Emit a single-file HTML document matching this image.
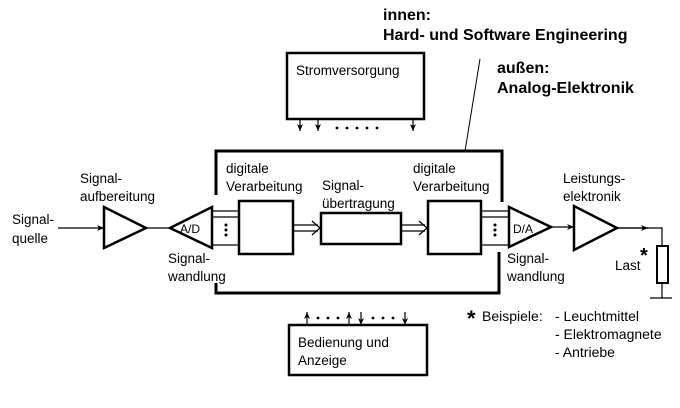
<!DOCTYPE html>
<html><head><meta charset="utf-8"><style>
body{margin:0;background:#fff}
svg text{font-family:"Liberation Sans",sans-serif;fill:#000}
</style></head><body>
<svg width="680" height="403" viewBox="0 0 680 403" xmlns="http://www.w3.org/2000/svg">
<defs><marker id="a" markerWidth="8" markerHeight="8" refX="7" refY="4" orient="auto" markerUnits="userSpaceOnUse"><path d="M0,1 L7,4 L0,7 L2,4Z" fill="#000"/></marker></defs>
<g font-size="13.5">
<text x="383" y="20" font-weight="bold" font-size="16">innen:</text>
<text x="383" y="40" font-weight="bold" font-size="16">Hard- und Software Engineering</text>
<text x="497" y="73" font-weight="bold" font-size="16">außen:</text>
<text x="497" y="93" font-weight="bold" font-size="16">Analog-Elektronik</text>
<text x="12" y="224">Signal-</text><text x="12" y="243">quelle</text>
<text x="80" y="183">Signal-</text><text x="80" y="201">aufbereitung</text>
<text x="226" y="173">digitale</text><text x="226" y="191">Verarbeitung</text>
<text x="322" y="190">Signal-</text><text x="322" y="208">übertragung</text>
<text x="413" y="173">digitale</text><text x="413" y="191">Verarbeitung</text>
<text x="563" y="183">Leistungs-</text><text x="563" y="201">elektronik</text>
<text x="168" y="263">Signal-</text><text x="168" y="281">wandlung</text>
<text x="507" y="263">Signal-</text><text x="507" y="281">wandlung</text>
<text x="615" y="270">Last</text><text x="640" y="262" font-size="20" font-weight="bold">*</text>
<text x="467" y="326" font-size="22" font-weight="bold">*</text>
<text x="482" y="321" font-size="14">Beispiele:</text>
<text x="555" y="321" font-size="14">- Leuchtmittel</text>
<text x="555" y="339" font-size="14">- Elektromagnete</text>
<text x="555" y="357" font-size="14">- Antriebe</text>
<text x="296" y="75">Stromversorgung</text>
<text x="298" y="347">Bedienung und</text><text x="298" y="365">Anzeige</text>
<text x="180" y="233" font-size="12">A/D</text>
<text x="513" y="233" font-size="12">D/A</text>
</g>
<g fill="none" stroke="#000">
<path d="M216,195 V151 H502 V202" stroke-width="3"/>
<path d="M216,283 V293 H499 V252" stroke-width="3"/>
<line x1="480" y1="59" x2="465" y2="151" stroke-width="1"/>
<rect x="287" y="53" width="137" height="66" stroke-width="2.5"/>
<rect x="289" y="325" width="138" height="50" stroke-width="2.5"/>
<polygon points="170,228 212,207 212,248" stroke-width="2.5"/>
<polygon points="509,207 509,247 551,227" stroke-width="2.5"/>
<polygon points="104,207 104,248 146,228" stroke-width="2.5"/>
<polygon points="574,206 574,250 617,228" stroke-width="2.5"/>
<rect x="239" y="201" width="54" height="53" stroke-width="2.5"/>
<rect x="321" y="213" width="80" height="31" stroke-width="2.5"/>
<rect x="428" y="201" width="53" height="53" stroke-width="2.5"/>
<path d="M212,211H239M212,217H239M212,245H239M481,211H509M481,217H509M481,245H509" stroke-width="1.2"/>
<path d="M293,225H318M293,231H318M401,225H425M401,231H425" stroke-width="1.2"/>
<path d="M312,221L320,228L312,235M419,221L427,228L419,235" stroke-width="1.2"/>
<line x1="58" y1="228" x2="104" y2="228" marker-end="url(#a)" stroke-width="1.2"/>
<line x1="146" y1="228" x2="170" y2="228" stroke-width="1.2"/>
<line x1="551" y1="227" x2="574" y2="227" marker-end="url(#a)" stroke-width="1.2"/>
<path d="M617,228H662V246M662,283V298M650,298H672" stroke-width="1.2"/>
<line x1="617" y1="228" x2="648" y2="228" marker-end="url(#a)" stroke-width="1.2"/>
<rect x="657" y="246" width="11" height="37" stroke-width="2"/>
<line x1="300" y1="119" x2="300" y2="131" marker-end="url(#a)" stroke-width="1.2"/>
<line x1="318" y1="119" x2="318" y2="131" marker-end="url(#a)" stroke-width="1.2"/>
<line x1="413" y1="119" x2="413" y2="131" marker-end="url(#a)" stroke-width="1.2"/>
<line x1="307" y1="325" x2="307" y2="312" marker-end="url(#a)" stroke-width="1.2"/>
<line x1="349" y1="325" x2="349" y2="312" marker-end="url(#a)" stroke-width="1.2"/>
<line x1="361" y1="312" x2="361" y2="325" marker-end="url(#a)" stroke-width="1.2"/>
<line x1="405" y1="312" x2="405" y2="325" marker-end="url(#a)" stroke-width="1.2"/>
</g>
<g fill="#000">
<circle cx="337" cy="128" r="1.4"/><circle cx="347" cy="128" r="1.4"/><circle cx="357" cy="128" r="1.4"/><circle cx="367" cy="128" r="1.4"/><circle cx="377" cy="128" r="1.4"/>
<circle cx="318" cy="318" r="1.4"/><circle cx="328" cy="318" r="1.4"/><circle cx="338" cy="318" r="1.4"/>
<circle cx="373" cy="318" r="1.4"/><circle cx="383" cy="318" r="1.4"/><circle cx="393" cy="318" r="1.4"/>
<circle cx="226" cy="225" r="1.5"/><circle cx="226" cy="230" r="1.5"/><circle cx="226" cy="235" r="1.5"/>
<circle cx="495" cy="225" r="1.5"/><circle cx="495" cy="230" r="1.5"/><circle cx="495" cy="235" r="1.5"/>
</g>
</svg>
</body></html>
